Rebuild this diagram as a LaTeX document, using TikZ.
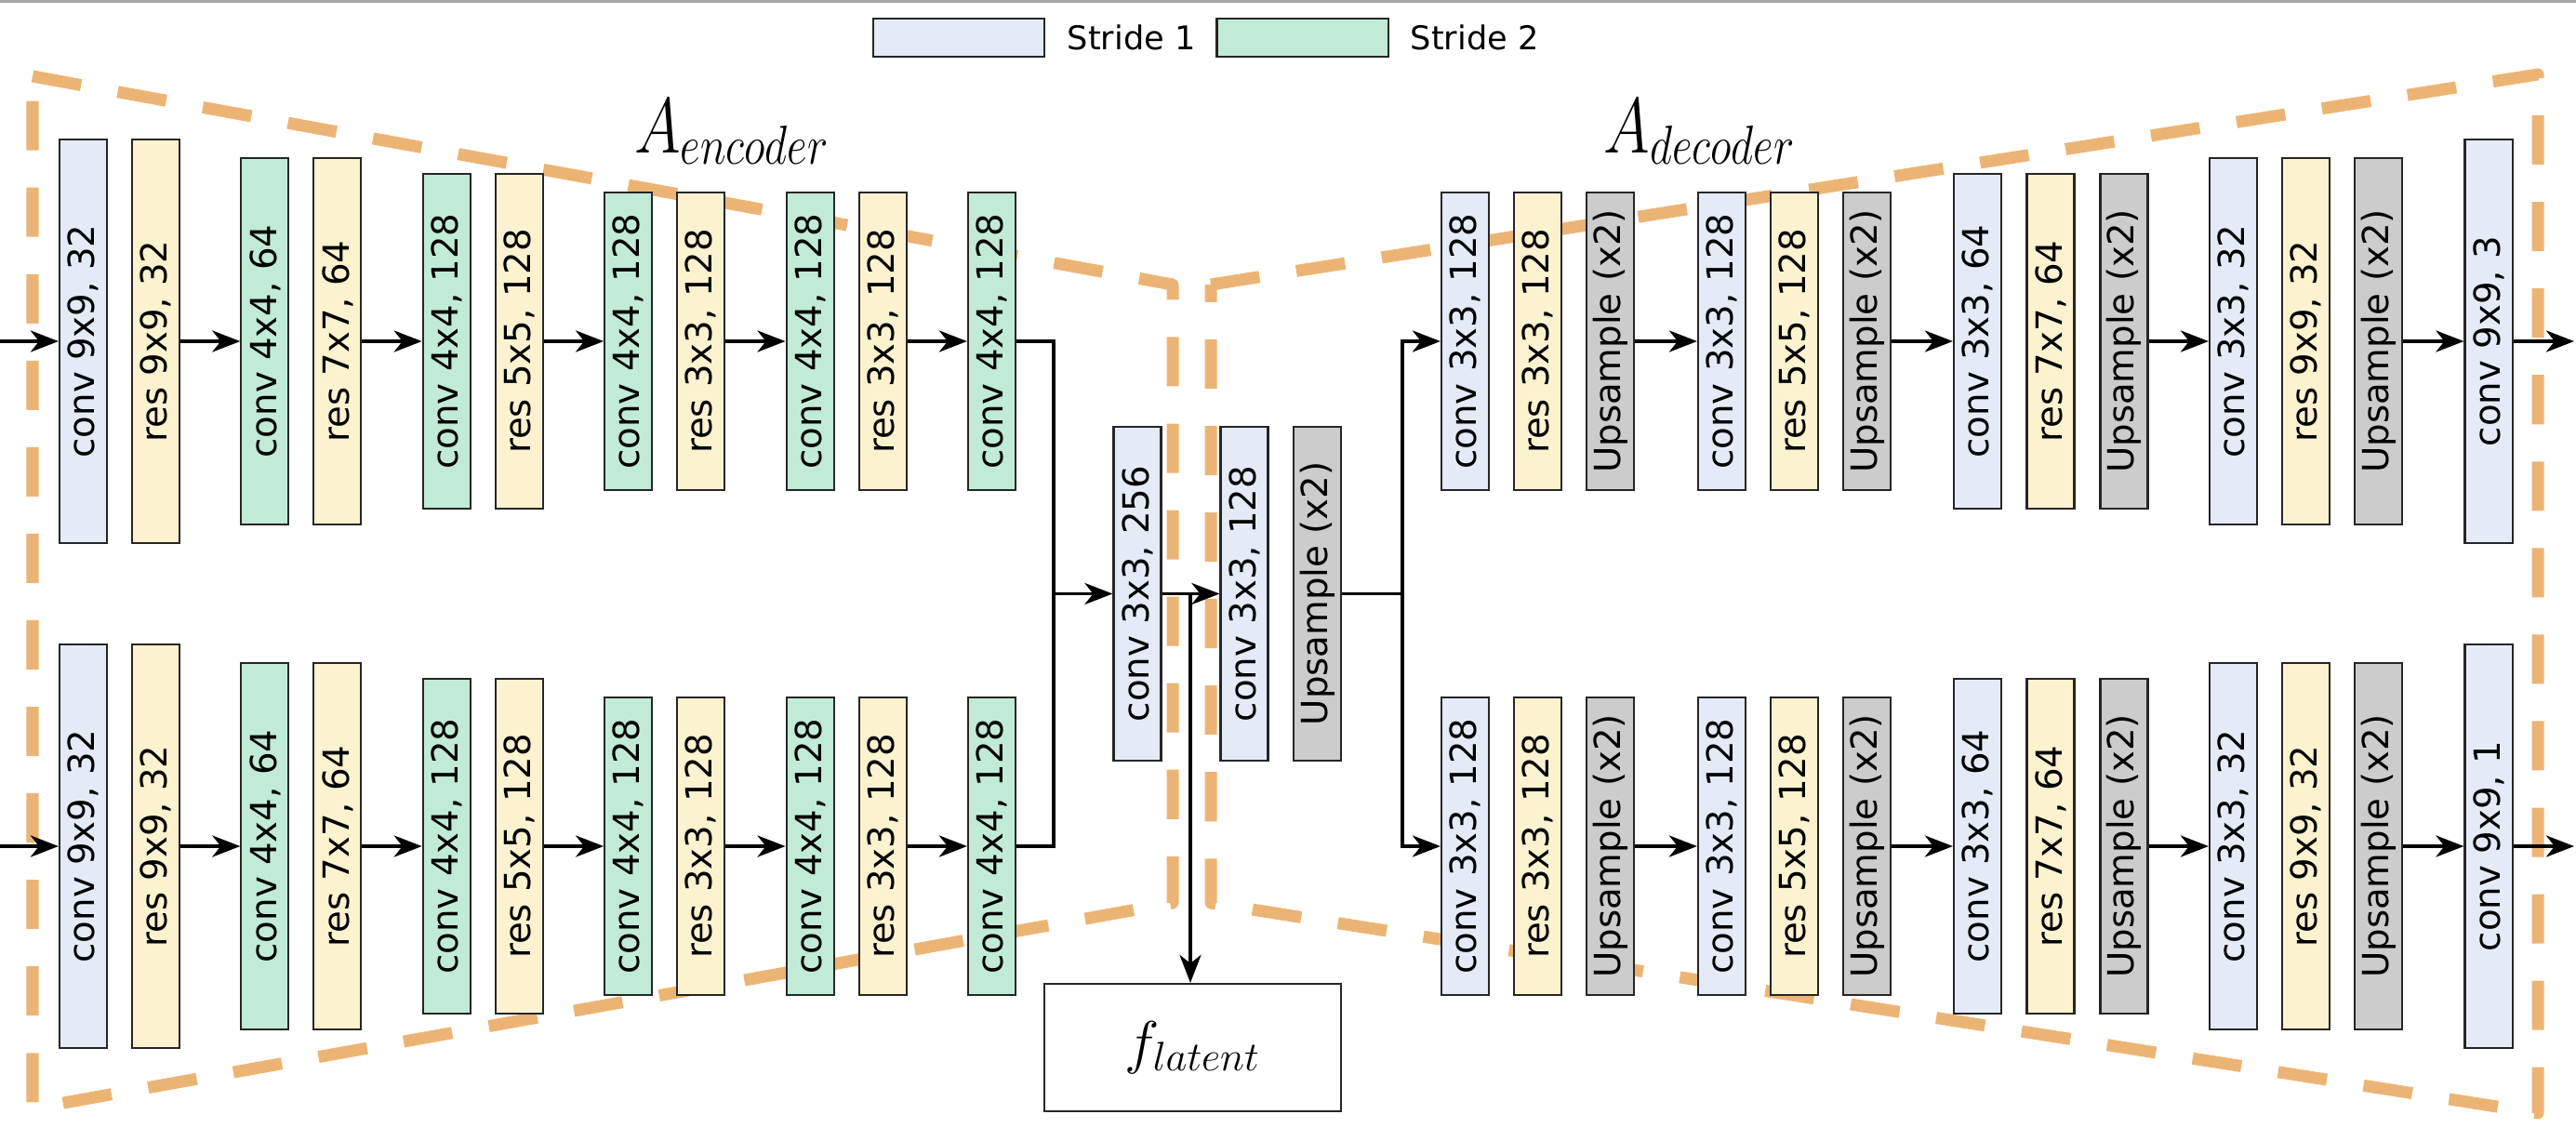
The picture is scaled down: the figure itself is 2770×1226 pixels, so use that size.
\RequirePackage{fix-cm}
\documentclass[tikz,border=0pt]{standalone}
\usepackage{fontspec}
\newfontfamily\lblfont{DejaVu Sans}
\usetikzlibrary{arrows.meta}

\definecolor{strideone}{HTML}{E4EBF6}
\definecolor{stridetwo}{HTML}{C1EBD7}
\definecolor{resfill}{HTML}{FCF2CF}
\definecolor{upfill}{HTML}{CCCCCC}
\definecolor{dashorange}{HTML}{ECB474}

\tikzset{
	lay/.style={draw=black!85, line width=0.6pt, inner sep=0pt},
	blk/.style={lay, rotate=90, minimum height=0.51cm, font=\lblfont\fontsize{11}{13}\selectfont},
	strone/.style={fill=strideone},
	strtwo/.style={fill=stridetwo},
	resblk/.style={fill=resfill},
	upblk/.style={fill=upfill},
	arr/.style={line width=1.1pt, -{Stealth[length=0.3cm,width=0.23cm,inset=0.09cm]}},
	wire/.style={line width=1.1pt},
	outline/.style={draw=dashorange, line width=0.13cm, dash pattern=on 0.53cm off 0.4cm, line join=round},
}

\begin{document}
\begin{tikzpicture}[x=0.01cm,y=-0.01cm]
	\useasboundingbox (0,0) rectangle (2770,1226);
	\draw[black!35, line width=0.03cm] (0,1) -- (2770,1);

	% legend
	\node[lay, strone, minimum width=1.84cm, minimum height=0.41cm] (key1) at (1031,40.5) {};
	\node[anchor=west, inner sep=0pt, font=\lblfont\fontsize{10}{12}\selectfont] (key1t) at (1147,40.5) {Stride 1};
	\node[lay, strtwo, minimum width=1.84cm, minimum height=0.41cm] (key2) at (1400.5,40.5) {};
	\node[anchor=west, inner sep=0pt, font=\lblfont\fontsize{10}{12}\selectfont] (key2t) at (1516,40.5) {Stride 2};

	% dashed outlines
	\draw[outline] (35,82) -- (1261,306) -- (1261,971) -- (35,1192) -- cycle;
	\draw[outline] (1302,306) -- (2729,80) -- (2729,1197) -- (1302,971) -- cycle;

	\node[anchor=base] (aenc) at (787,164) {\scalebox{0.8}[1]{\fontsize{24}{28}\selectfont$A_{encoder}$}};
	\node[anchor=base] (adec) at (1828,164) {\scalebox{0.8}[1]{\fontsize{24}{28}\selectfont$A_{decoder}$}};

	% encoder rows
	\foreach \y/\r in {367/t,910/b} {
		\foreach \x/\s/\h/\t [count=\i] in {
			89.5/strone/4.33/{conv 9x9, 32}, 167.5/resblk/4.33/{res 9x9, 32},
			284.9/strtwo/3.94/{conv 4x4, 64}, 362.9/resblk/3.94/{res 7x7, 64},
			480.3/strtwo/3.59/{conv 4x4, 128}, 558.3/resblk/3.59/{res 5x5, 128},
			675.7/strtwo/3.19/{conv 4x4, 128}, 753.7/resblk/3.19/{res 3x3, 128},
			871.1/strtwo/3.19/{conv 4x4, 128}, 949.1/resblk/3.19/{res 3x3, 128},
			1066.5/strtwo/3.19/{conv 4x4, 128}} {
			\node[blk, \s, minimum width=\h cm] (e\r\i) at (\x,\y) {\t};
		}
		\coordinate (in\r) at (0,\y);
		\draw[arr] (in\r) -- (e\r1);
		\foreach \a/\b in {2/3,4/5,6/7,8/9,10/11} {
			\draw[arr] (e\r\a) -- (e\r\b);
		}
	}

	% middle
	\node[blk, strone, minimum width=3.59cm] (mid1) at (1223,638.5) {conv 3x3, 256};
	\node[blk, strone, minimum width=3.59cm] (mid2) at (1338,638.5) {conv 3x3, 128};
	\node[blk, upblk, minimum width=3.59cm] (mid3) at (1416.5,638.5) {Upsample (x2)};
	\node[lay, minimum width=3.19cm, minimum height=1.37cm] (lat) at (1282.5,1126.5) {\fontsize{18}{22}\selectfont$f_{latent}$};

	\coordinate (jin) at (1133,638.5);
	\draw[wire] (et11) -| (jin);
	\draw[wire] (eb11) -| (jin);
	\draw[arr] (jin) -- (mid1);
	\draw[arr] (mid1) -- (mid2);
	\coordinate (tap) at (1280,638.5);
	\draw[arr] (tap) -- (tap |- lat.north);

	% decoder rows
	\foreach \y/\r/\o in {367/t/3,910/b/1} {
		\foreach \x/\s/\h/\t [count=\i] in {
			1575.5/strone/3.19/{conv 3x3, 128}, 1653.5/resblk/3.19/{res 3x3, 128}, 1731.5/upblk/3.19/{Upsample (x2)},
			1851.5/strone/3.19/{conv 3x3, 128}, 1929.5/resblk/3.19/{res 5x5, 128}, 2007.5/upblk/3.19/{Upsample (x2)},
			2126.5/strone/3.59/{conv 3x3, 64}, 2205/resblk/3.59/{res 7x7, 64}, 2284/upblk/3.59/{Upsample (x2)},
			2401.5/strone/3.93/{conv 3x3, 32}, 2479.5/resblk/3.93/{res 9x9, 32}, 2557.5/upblk/3.93/{Upsample (x2)},
			2676/strone/4.34/{conv 9x9, \o}} {
			\node[blk, \s, minimum width=\h cm] (d\r\i) at (\x,\y) {\t};
		}
		\foreach \a/\b in {3/4,6/7,9/10,12/13} {
			\draw[arr] (d\r\a) -- (d\r\b);
		}
		\coordinate (out\r) at (2768,\y);
		\draw[arr] (d\r13) -- (out\r);
	}

	\coordinate (jout) at (1508,638.5);
	\draw[wire] (mid3) -- (jout);
	\draw[arr] (jout) |- (dt1);
	\draw[arr] (jout) |- (db1);
\end{tikzpicture}
\end{document}
